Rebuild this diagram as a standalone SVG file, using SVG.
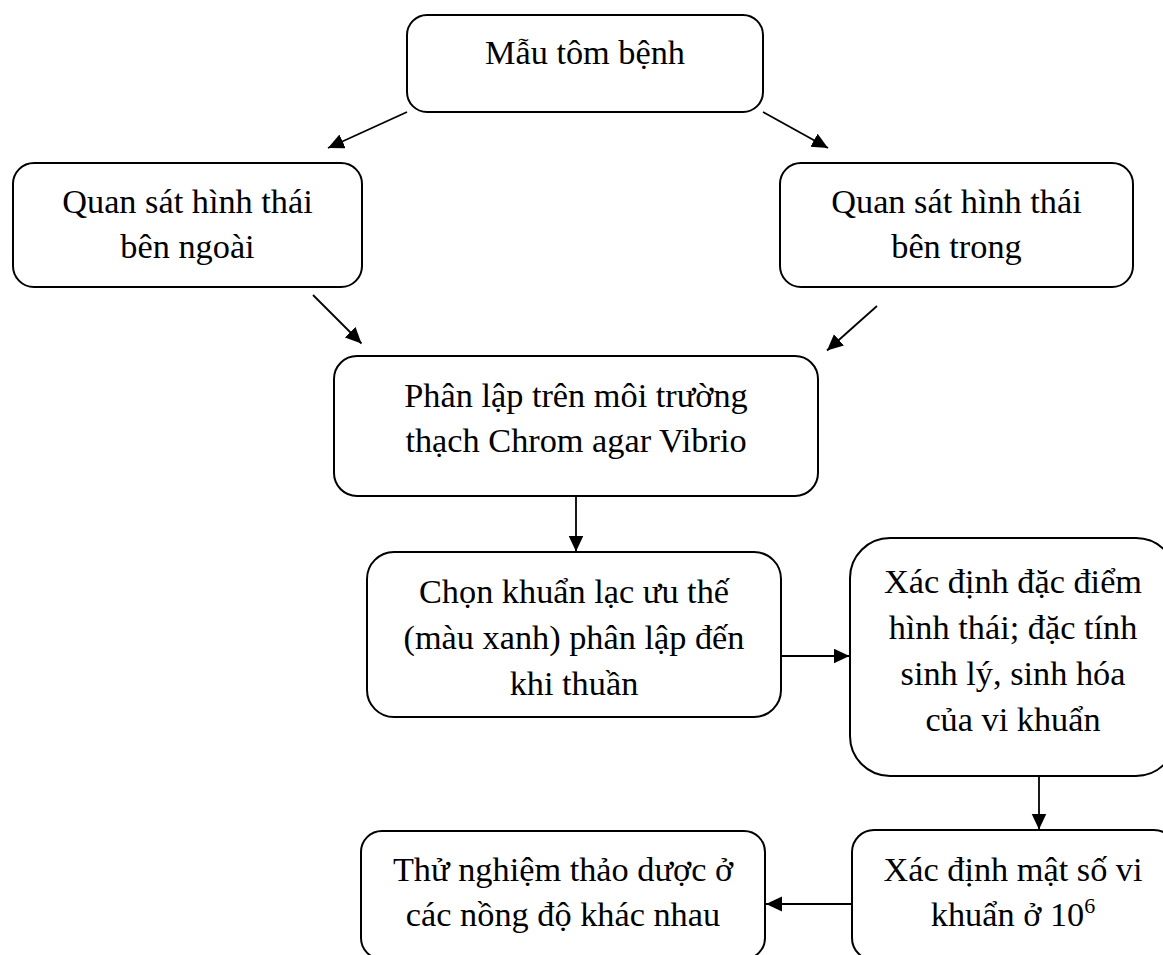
<svg xmlns="http://www.w3.org/2000/svg" width="1163" height="955" viewBox="0 0 1163 955">
<defs>
<style>
.box{fill:#fff;stroke:#000;stroke-width:2}
.lbl{font-family:"Liberation Serif","Times New Roman",serif;font-size:34.3px;fill:#000;text-anchor:middle}
.arr{stroke:#000;stroke-width:1.8;fill:none;marker-end:url(#ah)}
</style>
<marker id="ah" markerUnits="userSpaceOnUse" markerWidth="17" markerHeight="16" refX="16" refY="7.5" orient="auto">
<path d="M0,0 L16,7.5 L0,15 z" fill="#000"/>
</marker>
</defs>
<rect width="1163" height="955" fill="#fff"/>
<g id="connectors">
<line class="arr" x1="407" y1="112" x2="328" y2="148"/>
<line class="arr" x1="763" y1="112" x2="828" y2="148"/>
<line class="arr" x1="313" y1="295" x2="361.5" y2="343.5"/>
<line class="arr" x1="877" y1="306" x2="827" y2="350.5"/>
<line class="arr" x1="576" y1="496" x2="576" y2="551.5"/>
<line class="arr" x1="782" y1="656" x2="849.5" y2="656"/>
<line class="arr" x1="1039" y1="776" x2="1039" y2="829.5"/>
<line class="arr" x1="852" y1="904" x2="766" y2="904"/>
</g>
<g id="n1">
<rect class="box" x="407" y="15" width="356" height="97" rx="20"/>
<text class="lbl" x="585" y="64">Mẫu tôm bệnh</text>
</g>
<g id="n2">
<rect class="box" x="13" y="163" width="349" height="124" rx="21"/>
<text class="lbl" x="187.5" y="213">Quan sát hình thái</text>
<text class="lbl" x="187.5" y="258">bên ngoài</text>
</g>
<g id="n3">
<rect class="box" x="780" y="163" width="353" height="124" rx="21"/>
<text class="lbl" x="956.5" y="213">Quan sát hình thái</text>
<text class="lbl" x="956.5" y="258">bên trong</text>
</g>
<g id="n4">
<rect class="box" x="334" y="356" width="484" height="140" rx="23"/>
<text class="lbl" x="576" y="407">Phân lập trên môi trường</text>
<text class="lbl" x="576" y="452">thạch Chrom agar Vibrio</text>
</g>
<g id="n5">
<rect class="box" x="367" y="552" width="414" height="165" rx="27"/>
<text class="lbl" x="574" y="603">Chọn khuẩn lạc ưu thế</text>
<text class="lbl" x="574" y="649">(màu xanh) phân lập đến</text>
<text class="lbl" x="574" y="695">khi thuần</text>
</g>
<g id="n6">
<rect class="box" x="850" y="538" width="326" height="238" rx="40"/>
<text class="lbl" x="1013" y="593">Xác định đặc điểm</text>
<text class="lbl" x="1013" y="639">hình thái; đặc tính</text>
<text class="lbl" x="1013" y="685">sinh lý, sinh hóa</text>
<text class="lbl" x="1013" y="731">của vi khuẩn</text>
</g>
<g id="n7">
<rect class="box" x="852" y="830" width="324" height="130" rx="22"/>
<text class="lbl" x="1013" y="881">Xác định mật số vi</text>
<text class="lbl" x="1013" y="926">khuẩn ở 10<tspan font-size="22" dy="-13">6</tspan></text>
</g>
<g id="n8">
<rect class="box" x="361" y="831" width="404" height="128" rx="21"/>
<text class="lbl" x="563" y="881">Thử nghiệm thảo dược ở</text>
<text class="lbl" x="563" y="926">các nồng độ khác nhau</text>
</g>
</svg>
